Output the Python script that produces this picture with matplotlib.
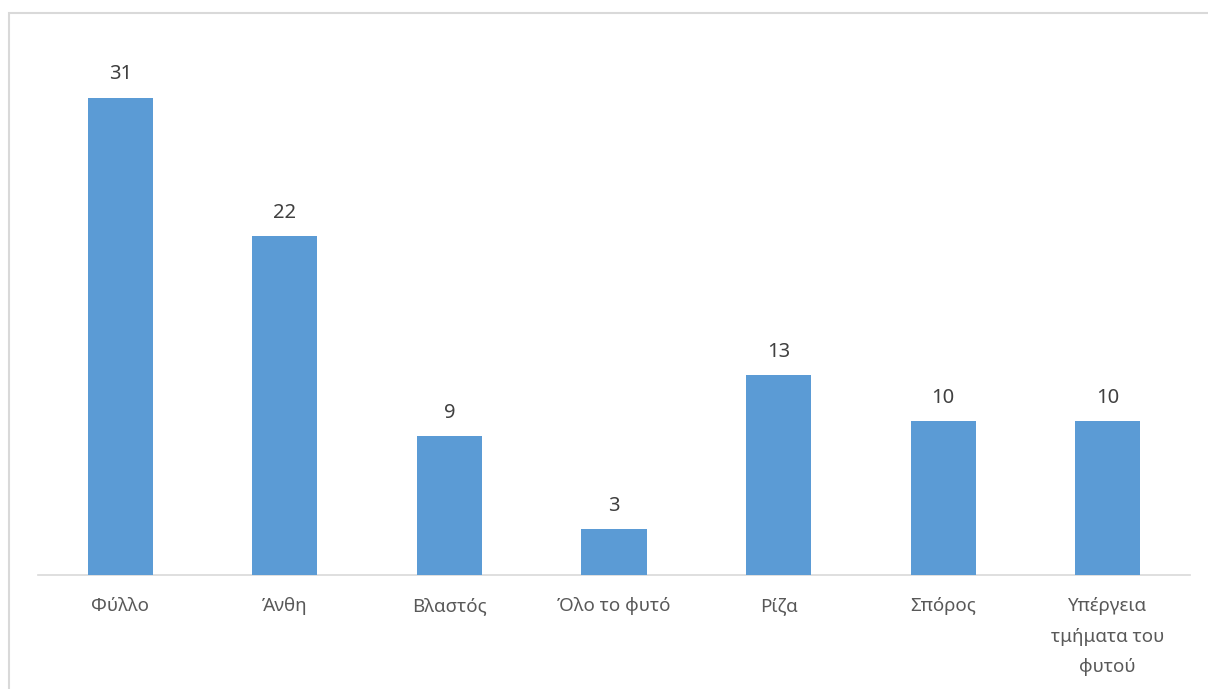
import matplotlib.pyplot as plt
from matplotlib.patches import Rectangle
import numpy as np

categories = ['Φύλλο', 'Άνθη', 'Βλαστός', 'Όλο το φυτό', 'Ρίζα', 'Σπόρος',
              'Υπέργεια\nτμήματα του\nφυτού']
values = [31, 22, 9, 3, 13, 10, 10]

W, H = 1208, 689
fig = plt.figure(figsize=(W / 100, H / 100), dpi=100)
plt.rcParams['font.family'] = ['Noto Sans', 'DejaVu Sans']

# outer chart border (clipped at right and bottom like the reference)
fig.patches.append(Rectangle((9 / W, -0.1), 1.2, 1 - 13 / H + 0.1,
                             transform=fig.transFigure, fill=False,
                             edgecolor='#D9D9D9', linewidth=1.5))

ax = fig.add_axes([38 / W, (H - 575) / H, (1190 - 38) / W, (575 - 36) / H])
xpos = np.arange(len(categories))
bars = ax.bar(xpos, values, width=0.395, color='#5B9BD5', zorder=3)

ax.set_xlim(-0.5, len(categories) - 0.5)
ax.set_ylim(0, 35)
for b, v in zip(bars, values):
    ax.annotate(str(v), (b.get_x() + b.get_width() / 2, v), xytext=(0, 9.5),
                textcoords='offset points', ha='center', va='bottom',
                fontsize=14.5, color='#404040')

ax.set_xticks(xpos)
ax.set_xticklabels(categories, fontsize=13.5, color='#595959', linespacing=1.9)
ax.tick_params(axis='x', length=0, pad=16)
ax.set_yticks([])
for s in ['top', 'right', 'left']:
    ax.spines[s].set_visible(False)
ax.spines['bottom'].set_color('#D9D9D9')
ax.spines['bottom'].set_linewidth(1.2)

plt.savefig('out.png', dpi=100)
